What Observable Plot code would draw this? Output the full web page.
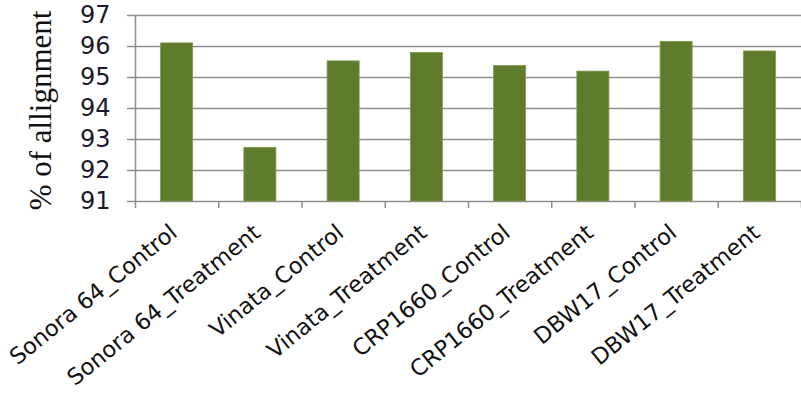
<!DOCTYPE html>
<html>
<head>
<meta charset="utf-8">
<script src="https://cdn.jsdelivr.net/npm/d3@7"></script>
<script src="https://cdn.jsdelivr.net/npm/@observablehq/plot@0.6"></script>
<style>
  html, body { margin: 0; padding: 0; background: #fff; }
</style>
</head>
<body>
<div id="chart"></div>
<script>
// Sample names along the x axis
const samples = [
  "Sonora 64_Control",
  "Sonora 64_Treatment",
  "Vinata_Control",
  "Vinata_Treatment",
  "CRP1660_Control",
  "CRP1660_Treatment",
  "DBW17_Control",
  "DBW17_Treatment"
];

// Percentage of reads aligned for each sample
const alignment = [96.1, 92.73, 95.52, 95.79, 95.37, 95.19, 96.15, 95.84];

// Y axis ticks
const yTicks = [91, 92, 93, 94, 95, 96, 97];

const rows = samples.map((name, i) => ({name, i, value: alignment[i]}));

const green = "#5f7b2c";
const grid = "#8f8f8f";

const chart = Plot.plot({
  width: 801,
  height: 393,
  marginLeft: 135,
  marginRight: 0,
  marginTop: 15,
  marginBottom: 192,
  style: {fontFamily: "DejaVu Sans, Verdana, sans-serif", background: "#fff"},
  x: {type: "linear", domain: [0, samples.length], axis: null},
  y: {domain: [91, 97], axis: null},
  marks: [
    // horizontal gridlines, extended left past the axis as tick marks
    Plot.ruleY(yTicks, {y: d => d, stroke: grid, strokeWidth: 1.5, insetLeft: -8}),
    // vertical axis line
    Plot.ruleX([0], {x: d => d, y1: 91, y2: 97, stroke: grid, strokeWidth: 1.5}),
    // category boundary ticks below the x axis
    Plot.ruleX(d3.range(0, samples.length + 1), {x: d => d, y1: 91, y2: 91, insetBottom: -7, stroke: grid, strokeWidth: 1.5}),
    // bars
    Plot.rectY(rows, {
      x1: d => d.i,
      x2: d => d.i + 1,
      y1: 91,
      y2: "value",
      insetLeft: 25.6,
      insetRight: 25.6,
      fill: green,
      stroke: "#7f9a4a",
      strokeWidth: 0.8
    }),
    // y tick labels
    Plot.text(yTicks, {
      x: 0, y: d => d, text: d => String(d),
      textAnchor: "end", dx: -25, dy: 0,
      fontSize: 24, fill: "#1a1a2e"
    }),
    // slanted category labels
    Plot.text(rows, {
      x: d => d.i + 0.5, y: 91, text: "name",
      textAnchor: "end", rotate: -39,
      dx: -3, dy: 28,
      fontSize: 22.5, fill: "#111"
    }),
    // y axis title
    Plot.text(["% of allignment"], {
      frameAnchor: "left", text: d => d, rotate: -90,
      textAnchor: "middle",
      dx: -94, dy: 2,
      fontFamily: "Liberation Serif, Times New Roman, serif",
      fontSize: 31, fill: "#111"
    })
  ]
});

document.getElementById("chart").append(chart);
</script>
</body>
</html>
